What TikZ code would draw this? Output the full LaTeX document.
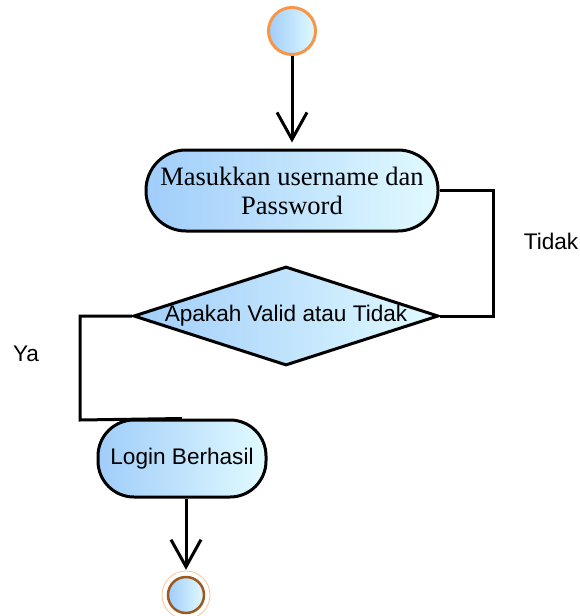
\documentclass[tikz,border=0pt]{standalone}
\usepackage{fontspec}
\setmainfont{Liberation Serif}
\setsansfont{Liberation Sans}
\usetikzlibrary{shapes.geometric,arrows.meta}
\definecolor{fillL}{RGB}{160,205,250}
\definecolor{fillR}{RGB}{225,250,255}
\definecolor{startOrange}{RGB}{247,150,70}
\definecolor{endBrown}{RGB}{156,90,30}
\definecolor{ringOrange}{RGB}{250,195,150}
\tikzset{
  grad/.style={left color=fillL,right color=fillR},
  actbox/.style={draw=black,line width=3pt,grad,rectangle,inner sep=0pt},
  conn/.style={draw=black,line width=3pt},
  arr/.style={conn,-{Straight Barb[length=27pt,width=30pt]}},
  lbl/.style={font=\sffamily\fontsize{22.6}{26}\selectfont,inner sep=0pt}
}
\begin{document}
\begin{tikzpicture}[x=1pt,y=-1pt]
\useasboundingbox (0,0) rectangle (580,616);

% start and end markers
\node[circle,grad,draw=startOrange,line width=3pt,minimum size=47pt,inner sep=0pt] (start) at (292,31) {};
\node[circle,draw=ringOrange,line width=0.8pt,minimum size=48pt,inner sep=0pt] (endring) at (186,595) {};
\node[circle,grad,draw=endBrown,line width=2.5pt,minimum size=36pt,inner sep=0pt] (endn) at (186,595) {};

% activities
\node[actbox,rounded corners=40pt,minimum width=292pt,minimum height=81pt,
      font=\fontsize{26.5}{29}\selectfont,align=center] (box1) at (292,190.5)
      {Masukkan username dan\\Password};
\node[diamond,grad,draw=black,line width=3pt,minimum width=305pt,minimum height=99pt,inner sep=0pt,
      label={[lbl]center:Apakah Valid atau Tidak}] (dec) at (286,316) {};
\node[actbox,rounded corners=36pt,minimum width=168pt,minimum height=77pt,lbl] (login) at (182,458.5)
      {Login Berhasil};

% guard labels
\node[lbl] (tidak) at (551,241) {Tidak};
\node[lbl] (ya) at (26,354) {Ya};

% connectors
\coordinate (tr) at (493,190.5);
\coordinate (yl) at (80,316);
\coordinate (yb) at (80,420);
\draw[arr,shorten >=6pt] (start) -- (box1);
\draw[conn] (box1.east) -- (tr) |- (dec.east);
\draw[conn] (dec.west) -- (yl) -- (yb) -- (login.north);
\draw[arr,shorten >=6pt] (login.south -| endn.center) -- (endn);
\end{tikzpicture}
\end{document}
